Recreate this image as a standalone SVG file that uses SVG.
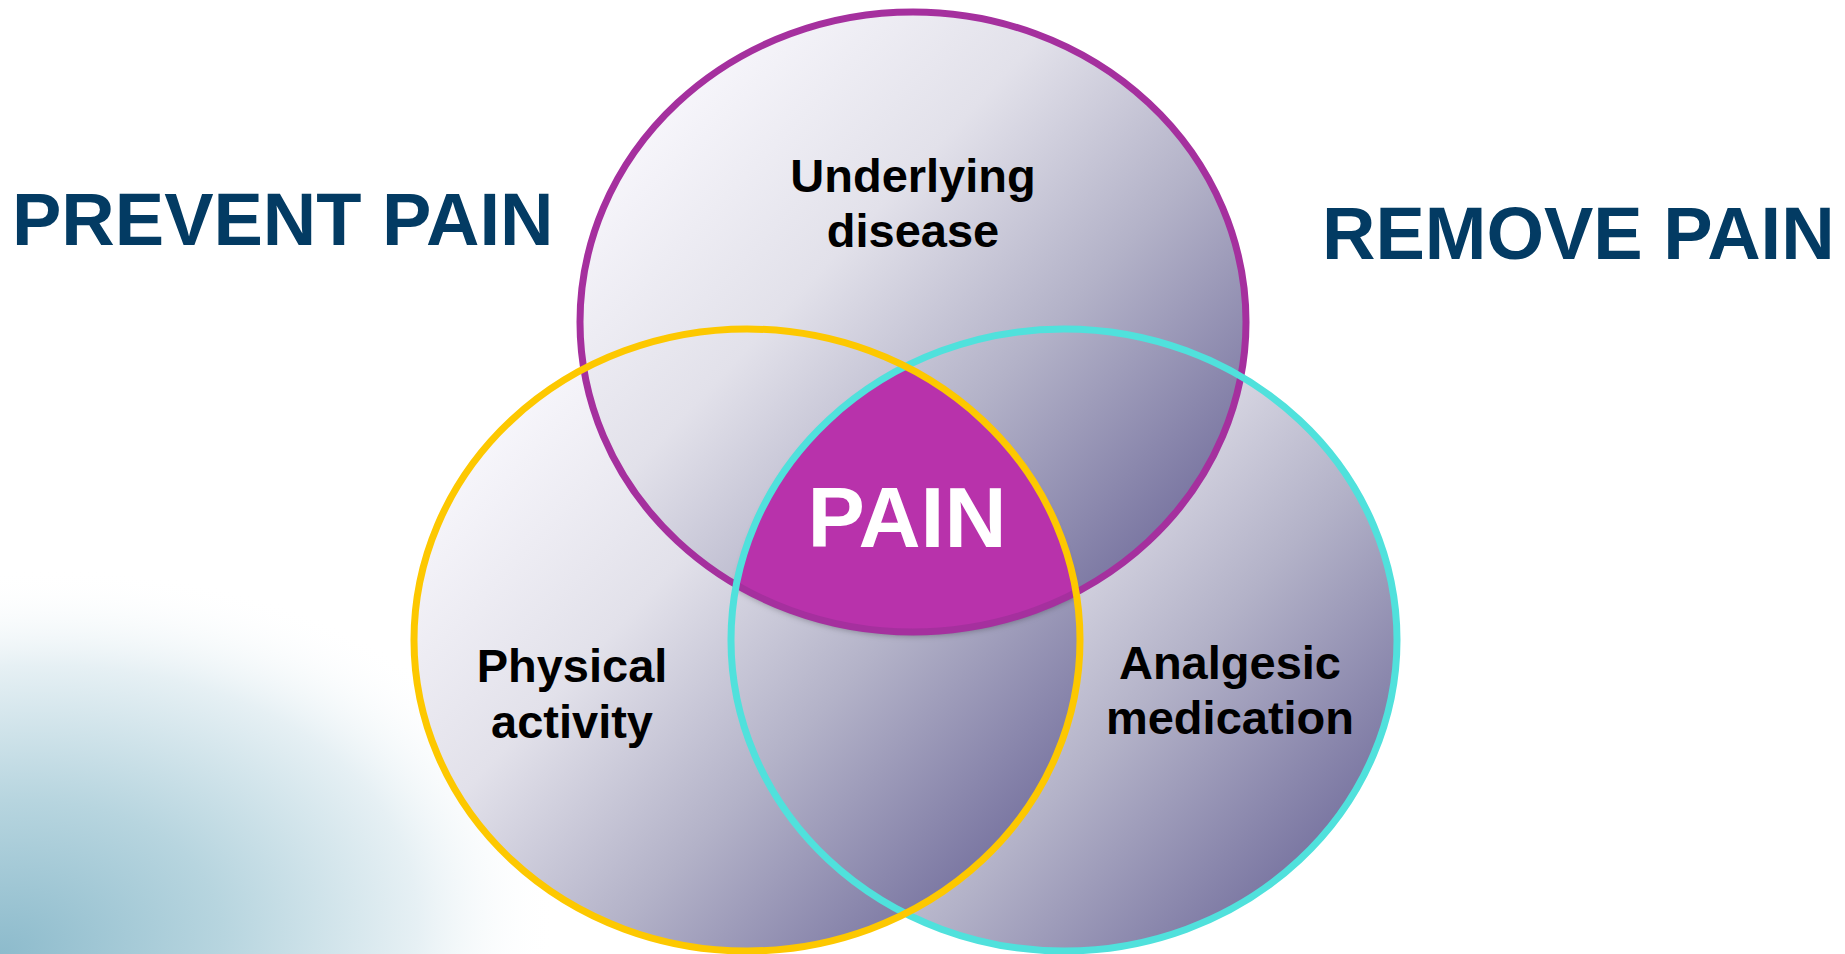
<svg xmlns="http://www.w3.org/2000/svg" width="1845" height="954" viewBox="0 0 1845 954">
  <style>
    .ring { fill: none; stroke-width: 7; }
    .label { font-family: "Liberation Sans", Arial, sans-serif; font-weight: bold; fill: #000; text-anchor: middle; font-size: 47px; }
    .side { font-family: "Liberation Sans", Arial, sans-serif; font-weight: bold; fill: #033b63; font-size: 74px; }
    .core { font-family: "Liberation Sans", Arial, sans-serif; font-weight: bold; fill: #ffffff; text-anchor: middle; font-size: 86px; }
  </style>
  <defs>
    <linearGradient id="shade" x1="0.1" y1="0.15" x2="0.9" y2="0.85">
      <stop offset="0" stop-color="#f8f7fc"/>
      <stop offset="0.35" stop-color="#e2e1ea"/>
      <stop offset="0.65" stop-color="#b3b2c8"/>
      <stop offset="1" stop-color="#76729f"/>
    </linearGradient>
    <radialGradient id="haze" cx="0" cy="954" r="560" gradientUnits="userSpaceOnUse" gradientTransform="translate(0 954) rotate(-8) scale(1 0.68) translate(0 -954)">
      <stop offset="0" stop-color="#8dbbcc"/>
      <stop offset="0.4" stop-color="#b7d5df"/>
      <stop offset="0.75" stop-color="#e6f0f4"/>
      <stop offset="1" stop-color="#ffffff" stop-opacity="0"/>
    </radialGradient>
    <clipPath id="clipLeft"><ellipse cx="747" cy="640" rx="333" ry="311"/></clipPath>
    <clipPath id="clipRight"><ellipse cx="1064" cy="640" rx="333" ry="311"/></clipPath>
    <filter id="soft" x="-10%" y="-10%" width="120%" height="130%">
      <feDropShadow dx="0" dy="4" stdDeviation="3" flood-color="#000" flood-opacity="0.3"/>
    </filter>
  </defs>

  <!-- background -->
  <rect width="1845" height="954" fill="#ffffff"/>
  <rect x="0" y="300" width="900" height="654" fill="url(#haze)"/>

  <!-- side headings -->
  <text class="side" x="12" y="245">PREVENT PAIN</text>
  <text class="side" x="1322" y="259" font-size="73">REMOVE PAIN</text>

  <!-- circle fills -->
  <g id="medication">
    <ellipse cx="1064" cy="640" rx="333" ry="311" fill="url(#shade)"/>
  </g>
  <g id="activity">
    <ellipse cx="747" cy="640" rx="333" ry="311" fill="url(#shade)"/>
  </g>
  <g id="disease">
    <ellipse cx="913" cy="322" rx="333" ry="310" fill="url(#shade)"/>
  </g>

  <!-- central overlap -->
  <g id="pain">
    <g filter="url(#soft)">
      <g clip-path="url(#clipLeft)">
        <g clip-path="url(#clipRight)">
          <ellipse cx="913" cy="322" rx="333" ry="310" fill="#b833ab"/>
        </g>
      </g>
    </g>
  </g>

  <!-- outlines -->
  <g id="outlines">
    <ellipse class="ring" cx="913" cy="322" rx="333" ry="310" stroke="#a5309e"/>
    <ellipse class="ring" cx="1064" cy="640" rx="333" ry="311" stroke="#50e1dc"/>
    <ellipse class="ring" cx="747" cy="640" rx="333" ry="311" stroke="#fdc800"/>
  </g>

  <!-- labels -->
  <text class="label" x="913" y="192">Underlying</text>
  <text class="label" x="913" y="247">disease</text>
  <text class="label" x="572" y="682">Physical</text>
  <text class="label" x="572" y="738">activity</text>
  <text class="label" x="1230" y="679">Analgesic</text>
  <text class="label" x="1230" y="734">medication</text>
  <text class="core" x="907" y="547">PAIN</text>
</svg>
